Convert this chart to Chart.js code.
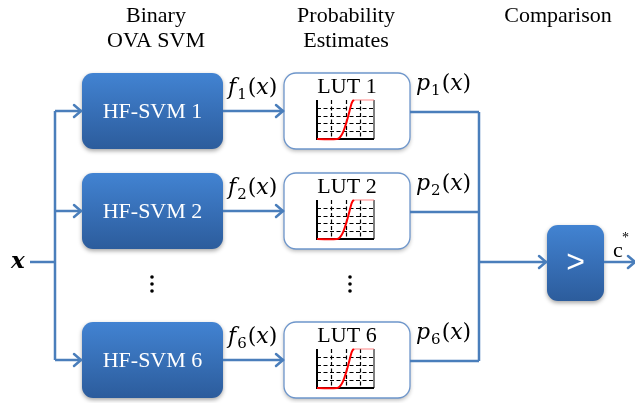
<!DOCTYPE html>
<html>
<head>
<meta charset="utf-8">
<script src="https://cdn.jsdelivr.net/npm/chart.js@4.4.1/dist/chart.umd.min.js"></script>
<style>
  html, body { margin: 0; padding: 0; background: #fff; }
</style>
</head>
<body>
<canvas id="diagram" width="635" height="403"></canvas>
<script>
// ---- content ----
var stageTitles = [["Binary", "OVA SVM"], ["Probability", "Estimates"], ["Comparison"]];
var classifierLabels = ["HF-SVM 1", "HF-SVM 2", "HF-SVM 6"];
var lutLabels = ["LUT 1", "LUT 2", "LUT 6"];
var classIndex = ["1", "2", "6"];
var inputLabel = "x";
var outputLabel = "c";
var compareLabel = ">";
// sigmoid (x: -4..4, p: 0..1)
var lutX = [-4, -1.2, -0.8, -0.4, 0, 0.4, 0.8, 1.0, 1.2];
var lutP = [0, 0, 0.04, 0.15, 0.35, 0.6, 0.88, 0.97, 1];
var lutTailX = [1.2, 4];
var lutTailP = [1, 1];

// ---- layout (page pixels) ----
var rowY = [111, 211, 360];
var boxH = 76;
var svmL = 82, svmR = 223;
var lutL = 284, lutR = 410;
var busIn = 55, busOut = 479;
var cmp = { l: 547, r: 604, t: 225, b: 301 };
var midY = 262;
var plotOffX = 33, plotOffY = -11, plotW = 57, plotH = 39;
var titleX = [156, 346, 558];
var wireColor = "#4A7EBB";

var xs, ys;
function px(x) { return xs.getPixelForValue(x); }
function py(y) { return ys.getPixelForValue(y); }

function seg(x1, y1, x2, y2, arrow) {
  return {
    data: [{ x: x1, y: y1 }, { x: x2, y: y2 }],
    showLine: true, borderColor: wireColor, borderWidth: 2.5,
    pointRadius: 0, arrow: !!arrow, fill: false
  };
}

var datasets = [];
datasets.push(seg(30, midY, busIn, midY));
datasets.push(seg(busIn, rowY[0], busIn, rowY[2]));
rowY.forEach(function (y) {
  datasets.push(seg(busIn, y, svmL, y, true));
  datasets.push(seg(svmR, y, lutL, y, true));
  datasets.push(seg(lutR, y + 1, busOut, y + 1));
});
datasets.push(seg(busOut, rowY[0] + 1, busOut, rowY[2] + 1));
datasets.push(seg(busOut, midY, cmp.l, midY, true));
datasets.push(seg(cmp.r, midY, 636, midY, true));

// sigmoid curves placed into each LUT's mini plot
function curve(xv, pv, color, left, top) {
  return {
    data: xv.map(function (v, i) {
      return { x: left + (v + 4) / 8 * plotW, y: top + plotH - pv[i] * plotH };
    }),
    showLine: true, borderColor: color, borderWidth: 2,
    pointRadius: 0, tension: 0.4, fill: false
  };
}
rowY.forEach(function (y) {
  var left = lutL + plotOffX, top = y + plotOffY;
  datasets.push(curve(lutX, lutP, "#FF0000", left, top));
  datasets.push(curve(lutTailX, lutTailP, "rgba(255,120,120,0.45)", left, top));
});

function roundRect(ctx, x, y, w, h, r) {
  ctx.beginPath();
  ctx.moveTo(x + r, y);
  ctx.arcTo(x + w, y, x + w, y + h, r);
  ctx.arcTo(x + w, y + h, x, y + h, r);
  ctx.arcTo(x, y + h, x, y, r);
  ctx.arcTo(x, y, x + w, y, r);
  ctx.closePath();
}

function blueBox(ctx, l, t, r, b) {
  var x = px(l), y = py(t), w = px(r) - x, h = py(b) - y;
  var g = ctx.createLinearGradient(0, y, 0, y + h);
  g.addColorStop(0, "#4283D2");
  g.addColorStop(1, "#2C5C9C");
  ctx.save();
  ctx.shadowColor = "rgba(0,0,0,0.35)";
  ctx.shadowBlur = 4;
  ctx.shadowOffsetY = 2;
  roundRect(ctx, x, y, w, h, 11);
  ctx.fillStyle = g;
  ctx.fill();
  ctx.restore();
}

function lutBox(ctx, l, t, r, b) {
  var x = px(l), y = py(t), w = px(r) - x, h = py(b) - y;
  ctx.save();
  ctx.shadowColor = "rgba(0,0,0,0.3)";
  ctx.shadowBlur = 4;
  ctx.shadowOffsetY = 2;
  roundRect(ctx, x, y, w, h, 12);
  ctx.fillStyle = "#fff";
  ctx.fill();
  ctx.restore();
  roundRect(ctx, x, y, w, h, 12);
  ctx.strokeStyle = "#6E96CB";
  ctx.lineWidth = 1.3;
  ctx.stroke();
}

function miniGrid(ctx, left, top) {
  var x0 = px(left), y0 = py(top), x1 = px(left + plotW), y1 = py(top + plotH);
  ctx.save();
  ctx.strokeStyle = "#000";
  ctx.lineWidth = 1.2;
  ctx.setLineDash([4, 2.5]);
  for (var i = 1; i < 4; i++) {
    var gx = Math.round(x0 + (x1 - x0) * i / 4) + 0.5;
    ctx.beginPath(); ctx.moveTo(gx, y0); ctx.lineTo(gx, y1); ctx.stroke();
  }
  for (var j = 1; j < 5; j++) {
    var gy = Math.round(y0 + (y1 - y0) * j / 5) + 0.5;
    ctx.beginPath(); ctx.moveTo(x0, gy); ctx.lineTo(x1, gy); ctx.stroke();
  }
  ctx.setLineDash([]);
  ctx.lineWidth = 1;
  ctx.beginPath(); ctx.moveTo(x1, y0); ctx.lineTo(x1, y1); ctx.stroke();
  ctx.lineWidth = 2;
  ctx.beginPath(); ctx.moveTo(x0, y0); ctx.lineTo(x0, y1); ctx.lineTo(x1, y1); ctx.stroke();
  ctx.restore();
}

// draws a run of [text, font, dy, gap] pieces from a left baseline point
function runs(ctx, x, y, parts, color) {
  ctx.save();
  ctx.fillStyle = color || "#000";
  ctx.textAlign = "left";
  ctx.textBaseline = "alphabetic";
  var cx = px(x);
  parts.forEach(function (p) {
    ctx.font = p[1];
    ctx.fillText(p[0], cx, py(y) + (p[2] || 0));
    cx += ctx.measureText(p[0]).width + (p[3] || 0);
  });
  ctx.restore();
}

var diagramPlugin = {
  id: "diagram",
  beforeDatasetsDraw: function (chart) {
    var ctx = chart.ctx;
    xs = chart.scales.x; ys = chart.scales.y;
    rowY.forEach(function (y) {
      blueBox(ctx, svmL, y - boxH / 2, svmR, y + boxH / 2);
      lutBox(ctx, lutL, y - boxH / 2, lutR, y + boxH / 2);
      miniGrid(ctx, lutL + plotOffX, y + plotOffY);
    });
    blueBox(ctx, cmp.l, cmp.t, cmp.r, cmp.b);
  },
  afterDatasetsDraw: function (chart) {
    var ctx = chart.ctx;
    // arrow heads
    chart.data.datasets.forEach(function (ds) {
      if (!ds.arrow) return;
      var b = ds.data[1];
      var tx = px(b.x), ty = py(b.y);
      ctx.save();
      ctx.strokeStyle = wireColor;
      ctx.lineWidth = 2.5;
      ctx.lineCap = "round";
      ctx.beginPath();
      ctx.moveTo(tx - 8, ty - 6);
      ctx.lineTo(tx - 1, ty);
      ctx.lineTo(tx - 8, ty + 6);
      ctx.stroke();
      ctx.restore();
    });

    // stage titles
    ctx.save();
    ctx.fillStyle = "#000";
    ctx.textAlign = "center";
    ctx.font = "22px 'Liberation Serif'";
    stageTitles.forEach(function (lines, i) {
      lines.forEach(function (t, k) {
        ctx.fillText(t, px(titleX[i]), py(22 + k * 25));
      });
    });

    // box labels
    rowY.forEach(function (y, i) {
      ctx.textBaseline = "middle";
      ctx.fillStyle = "#fff";
      ctx.font = "22px 'Liberation Serif'";
      ctx.fillText(classifierLabels[i], px((svmL + svmR) / 2), py(y + 1));
      ctx.fillStyle = "#000";
      ctx.textBaseline = "alphabetic";
      ctx.fillText(lutLabels[i], px((lutL + lutR) / 2), py(y - 18));
    });
    ctx.textBaseline = "middle";
    ctx.fillStyle = "#fff";
    ctx.font = "32px 'Liberation Sans'";
    ctx.fillText(compareLabel, px((cmp.l + cmp.r) / 2), py(midY + 1));

    // vertical ellipses
    ctx.fillStyle = "#000";
    [152, 350].forEach(function (x) {
      [277, 284, 291].forEach(function (y) {
        ctx.beginPath();
        ctx.arc(px(x), py(y), 1.8, 0, Math.PI * 2);
        ctx.fill();
      });
    });
    ctx.restore();

    // signal labels
    var it = "italic 22px 'DejaVu Serif'", up = "22px 'DejaVu Serif'", sub = "15px 'DejaVu Serif'";
    rowY.forEach(function (y, i) {
      runs(ctx, 228, y - 17, [["f", it, 0, 1], [classIndex[i], sub, 5, 1], ["(", up], ["x", it], [")", up]]);
      runs(ctx, 416, y - 21, [["p", it, 0, 1], [classIndex[i], sub, 5, 1], ["(", up], ["x", it], [")", up]]);
    });
    runs(ctx, 11, midY + 6, [[inputLabel, "italic bold 23px 'DejaVu Serif'"]]);
    runs(ctx, 613, midY - 5, [[outputLabel, "22px 'Liberation Serif'"]]);
    runs(ctx, 622, midY - 20, [["*", "14px 'Liberation Serif'"]]);
  }
};

new Chart(document.getElementById("diagram").getContext("2d"), {
  type: "scatter",
  data: { datasets: datasets },
  options: {
    responsive: false,
    animation: false,
    devicePixelRatio: 1,
    layout: { padding: 0 },
    plugins: { legend: { display: false }, tooltip: { enabled: false } },
    scales: {
      x: { type: "linear", min: 0, max: 635, display: false },
      y: { type: "linear", min: 0, max: 403, reverse: true, display: false }
    }
  },
  plugins: [diagramPlugin]
});
</script>
</body>
</html>
